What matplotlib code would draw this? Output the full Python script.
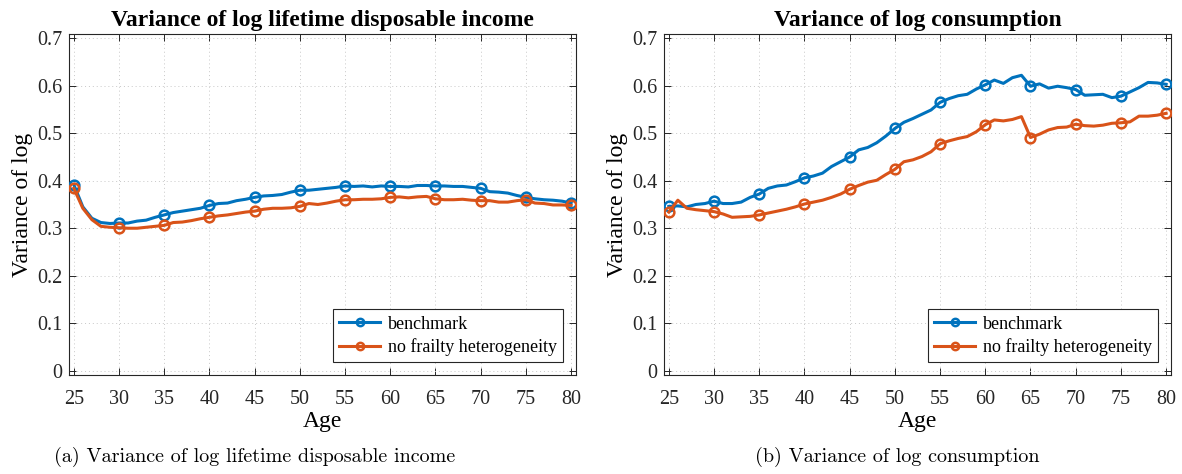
import numpy as np
import matplotlib
matplotlib.use("Agg")
import matplotlib.pyplot as plt

# === data ===
age = np.arange(25, 81)

income_bench = [0.392, 0.345, 0.321, 0.312, 0.310, 0.311, 0.311, 0.315, 0.317, 0.323,
                0.328, 0.333, 0.336, 0.339, 0.342, 0.348, 0.352, 0.353, 0.358, 0.361,
                0.365, 0.368, 0.369, 0.371, 0.376, 0.380, 0.380, 0.382, 0.384, 0.386,
                0.389, 0.388, 0.389, 0.387, 0.389, 0.388, 0.388, 0.387, 0.390, 0.390,
                0.389, 0.389, 0.388, 0.388, 0.386, 0.384, 0.377, 0.376, 0.374, 0.369,
                0.365, 0.362, 0.360, 0.359, 0.357, 0.353]
income_nofrail = [0.384, 0.342, 0.318, 0.304, 0.302, 0.301, 0.300, 0.300, 0.302, 0.304,
                  0.306, 0.312, 0.313, 0.316, 0.320, 0.323, 0.326, 0.328, 0.331, 0.334,
                  0.336, 0.340, 0.342, 0.342, 0.343, 0.346, 0.352, 0.350, 0.353, 0.357,
                  0.360, 0.360, 0.361, 0.361, 0.362, 0.365, 0.366, 0.364, 0.366, 0.367,
                  0.362, 0.360, 0.360, 0.361, 0.359, 0.358, 0.358, 0.355, 0.355, 0.358,
                  0.360, 0.353, 0.352, 0.349, 0.349, 0.348]

cons_bench = [0.346, 0.347, 0.345, 0.350, 0.352, 0.357, 0.352, 0.352, 0.355, 0.365,
              0.372, 0.384, 0.389, 0.391, 0.398, 0.406, 0.410, 0.416, 0.430, 0.440,
              0.450, 0.465, 0.470, 0.480, 0.494, 0.510, 0.523, 0.531, 0.540, 0.549,
              0.565, 0.573, 0.579, 0.582, 0.593, 0.602, 0.612, 0.605, 0.617, 0.622,
              0.599, 0.604, 0.595, 0.599, 0.596, 0.592, 0.580, 0.581, 0.582, 0.575,
              0.578, 0.587, 0.596, 0.607, 0.606, 0.603]
cons_nofrail = [0.334, 0.359, 0.342, 0.339, 0.337, 0.335, 0.330, 0.323, 0.324, 0.325,
                0.328, 0.332, 0.336, 0.340, 0.345, 0.351, 0.355, 0.359, 0.365, 0.372,
                0.382, 0.390, 0.397, 0.401, 0.413, 0.424, 0.440, 0.444, 0.451, 0.461,
                0.478, 0.484, 0.489, 0.493, 0.503, 0.518, 0.528, 0.526, 0.529, 0.535,
                0.491, 0.498, 0.507, 0.512, 0.513, 0.519, 0.516, 0.515, 0.517, 0.521,
                0.522, 0.524, 0.536, 0.536, 0.538, 0.542]

titles = ["Variance of log lifetime disposable income", "Variance of log consumption"]
captions = ["(a) Variance of log lifetime disposable income", "(b) Variance of log consumption"]
labels = ["benchmark", "no frailty heterogeneity"]

blue = "#0072BD"
orange = "#D95319"

plt.rcParams['font.family'] = ['Liberation Serif', 'DejaVu Serif']

fig = plt.figure(figsize=(11.82, 4.74), dpi=100)
ax1 = fig.add_axes([0.0586, 0.2089, 0.4284, 0.7194])
ax2 = fig.add_axes([0.5620, 0.2089, 0.4284, 0.7194])

panels = [(ax1, income_bench, income_nofrail), (ax2, cons_bench, cons_nofrail)]
for i, (ax, yb, yn) in enumerate(panels):
    ax.plot(age, yb, color=blue, lw=2.2, marker='o', markevery=5, ms=7,
            mew=1.8, mfc='none', label=labels[0], zorder=3)
    ax.plot(age, yn, color=orange, lw=2.2, marker='o', markevery=5, ms=7,
            mew=1.8, mfc='none', label=labels[1], zorder=3)
    ax.set_xlim(24.5, 80.5)
    ax.set_ylim(-0.009, 0.709)
    ax.set_xticks(np.arange(25, 81, 5))
    ax.set_yticks(np.arange(0, 0.71, 0.1))
    ax.set_yticklabels(["0", "0.1", "0.2", "0.3", "0.4", "0.5", "0.6", "0.7"])
    ax.tick_params(direction='in', top=True, right=True, length=5, width=0.7,
                   labelsize=14.5, colors='#262626')
    ax.tick_params(axis='x', pad=11)
    ax.tick_params(axis='y', pad=5)
    for sp in ax.spines.values():
        sp.set_color('#262626')
        sp.set_linewidth(0.8)
    ax.grid(True, linestyle=(0, (1, 3)), color='#c8c8c8', lw=0.7)
    ax.set_axisbelow(True)
    ax.set_title(titles[i], fontsize=17, fontweight='bold', pad=6)
    ax.set_xlabel("Age", fontsize=17, labelpad=1)
    ax.set_ylabel("Variance of log", fontsize=17, labelpad=3)
    leg = ax.legend(loc='lower right', fontsize=13, fancybox=False,
                    framealpha=1, edgecolor='#262626', borderaxespad=0.7,
                    handlelength=2.3, handletextpad=0.4, borderpad=0.35,
                    labelspacing=0.3, markerscale=0.75)
    leg.get_frame().set_linewidth(0.8)

fig.text(0.215, 0.035, captions[0], fontsize=14.5, family='cmr10', ha='center', va='center')
fig.text(0.759, 0.035, captions[1], fontsize=14.5, family='cmr10', ha='center', va='center')

fig.savefig("out.png", dpi=100)
